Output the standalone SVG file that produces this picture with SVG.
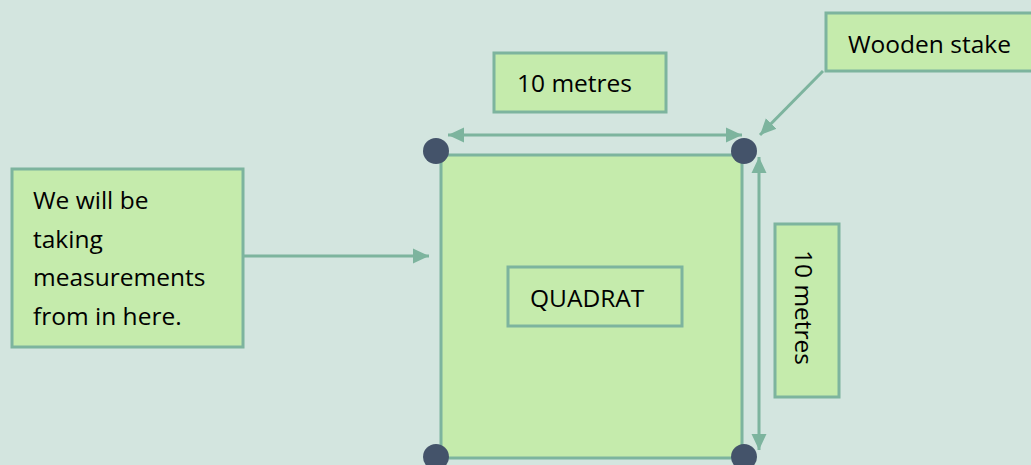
<svg xmlns="http://www.w3.org/2000/svg" width="1031" height="465" viewBox="0 0 1031 465">
<defs>
<style>
.box{fill:#c5ebac;stroke:#7db49e;stroke-width:3}
.lbl{font-family:"Open Sans","Noto Sans","DejaVu Sans",sans-serif;font-size:24.5px;fill:#000}
.con{stroke:#7db49e;stroke-width:3;fill:none}
.stake{fill:#44536a}
</style>
<marker id="ah" markerUnits="userSpaceOnUse" markerWidth="17" markerHeight="17" viewBox="0 0 17 17" refX="16" refY="8.5" orient="auto-start-reverse">
<path d="M0,1 L16,8.5 L0,16 Z" fill="#7db49e"/>
</marker>
</defs>
<rect width="1031" height="465" fill="#d3e5df"/>
<g id="quadrat">
<rect class="box" x="441" y="155" width="301" height="303"/>
</g>
<g id="quadrat-label">
<rect class="box" x="508" y="267" width="174" height="59"/>
<text class="lbl" x="530" y="307">QUADRAT</text>
</g>
<g id="top-label">
<rect class="box" x="494" y="53" width="172" height="59"/>
<text class="lbl" x="517" y="92">10 metres</text>
</g>
<g id="side-label">
<rect class="box" x="775" y="224" width="64" height="173"/>
<text class="lbl" transform="translate(795,250) rotate(90)">10 metres</text>
</g>
<g id="stake-label">
<rect class="box" x="826" y="13" width="210" height="58"/>
<text class="lbl" x="848" y="53">Wooden stake</text>
</g>
<g id="note">
<rect class="box" x="12" y="169" width="231" height="178"/>
<text class="lbl" x="33" y="209">We will be</text>
<text class="lbl" x="33" y="248">taking</text>
<text class="lbl" x="33" y="286">measurements</text>
<text class="lbl" x="33" y="325">from in here.</text>
</g>
<g id="connectors">
<line class="con" x1="448" y1="135" x2="742" y2="135" marker-start="url(#ah)" marker-end="url(#ah)"/>
<line class="con" x1="759" y1="157" x2="759" y2="450" marker-start="url(#ah)" marker-end="url(#ah)"/>
<line class="con" x1="823" y1="71" x2="760" y2="135" marker-end="url(#ah)"/>
<line class="con" x1="243" y1="256" x2="429" y2="256" marker-end="url(#ah)"/>
</g>
<g id="stakes">
<circle class="stake" cx="436" cy="151" r="13"/>
<circle class="stake" cx="744" cy="151" r="13"/>
<circle class="stake" cx="436" cy="457" r="13"/>
<circle class="stake" cx="744" cy="457" r="13"/>
</g>
</svg>
